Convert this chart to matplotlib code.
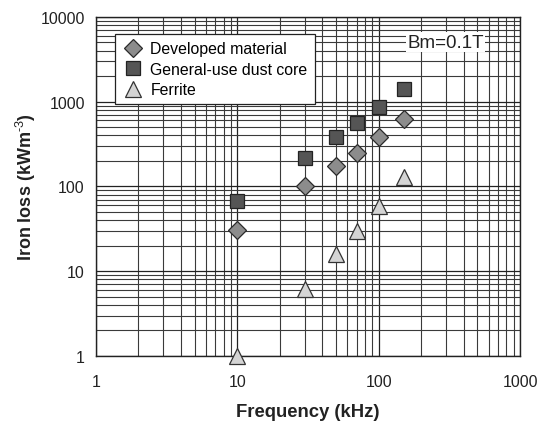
import numpy as np
import matplotlib.pyplot as plt
from matplotlib.ticker import FixedLocator, NullFormatter

plt.rcParams.update({
    "font.family": ["Liberation Sans", "DejaVu Sans"],
    "font.size": 11.5,
    "mathtext.fontset": "custom",
    "mathtext.rm": "Liberation Sans",
    "mathtext.bf": "Liberation Sans:bold",
})

freq = [10, 30, 50, 70, 100, 150]
developed = [31, 100, 172, 245, 385, 630]
dust_core = [68, 218, 380, 560, 860, 1400]
ferrite = [1.0, 6.2, 16, 30, 59, 130]

fig = plt.figure(figsize=(5.48, 4.27), dpi=100)
ax = fig.add_axes([0.175, 0.164, 0.774, 0.794])

ax.set_xscale("log")
ax.set_yscale("log")
ax.set_xlim(1, 1000)
ax.set_ylim(1, 10000)

ax.plot(freq, developed, linestyle="none", marker="D", ms=9, color="#8c8c8c",
        mec="#2a2a2a", mew=0.9, label="Developed material", zorder=3)
ax.plot(freq, dust_core, linestyle="none", marker="s", ms=10, color="#555555",
        mec="#222222", mew=0.9, label="General-use dust core", zorder=3)
ax.plot(freq, ferrite, linestyle="none", marker="^", ms=12, color="#d4d4d4",
        mec="#333333", mew=0.9, label="Ferrite", zorder=3, clip_on=False)

minor = [m * 10.0 ** e for e in range(0, 4) for m in range(2, 10)]
ax.xaxis.set_minor_locator(FixedLocator([v for v in minor if v < 1000]))
ax.yaxis.set_minor_locator(FixedLocator([v for v in minor if v < 10000]))
ax.xaxis.set_minor_formatter(NullFormatter())
ax.yaxis.set_minor_formatter(NullFormatter())
ax.set_xticks([1, 10, 100, 1000])
ax.set_xticklabels(["1", "10", "100", "1000"])
ax.set_yticks([1, 10, 100, 1000, 10000])
ax.set_yticklabels(["1", "10", "100", "1000", "10000"])
ax.tick_params(which="both", length=0, labelsize=11.5, labelcolor="#222222")
ax.tick_params(axis="y", pad=8)
ax.tick_params(axis="x", pad=13)

ax.grid(which="major", color="#222222", linewidth=0.9)
ax.grid(which="minor", color="#3a3a3a", linewidth=0.8)
for s in ax.spines.values():
    s.set_color("#222222")
    s.set_linewidth(1.0)

ax.set_xlabel("Frequency (kHz)", fontsize=13.3, fontweight="bold", labelpad=10,
              color="#222222")
ax.set_ylabel(r"Iron loss (kWm$^{\text{-}3}$)", fontsize=13, fontweight="bold",
              labelpad=2, color="#222222")

leg = ax.legend(loc="upper left", bbox_to_anchor=(0.026, 0.973), frameon=True,
                fancybox=False, edgecolor="#222222", framealpha=1,
                handletextpad=0.4, borderpad=0.45, labelspacing=0.35, fontsize=11.4,
                handlelength=1.4)
leg.get_frame().set_linewidth(0.9)

ax.text(0.825, 0.926, "Bm=0.1T", transform=ax.transAxes, ha="center", va="center",
        fontsize=13.5, color="#222222",
        bbox=dict(facecolor="white", edgecolor="none", pad=1))

fig.savefig("out.png", dpi=100)
